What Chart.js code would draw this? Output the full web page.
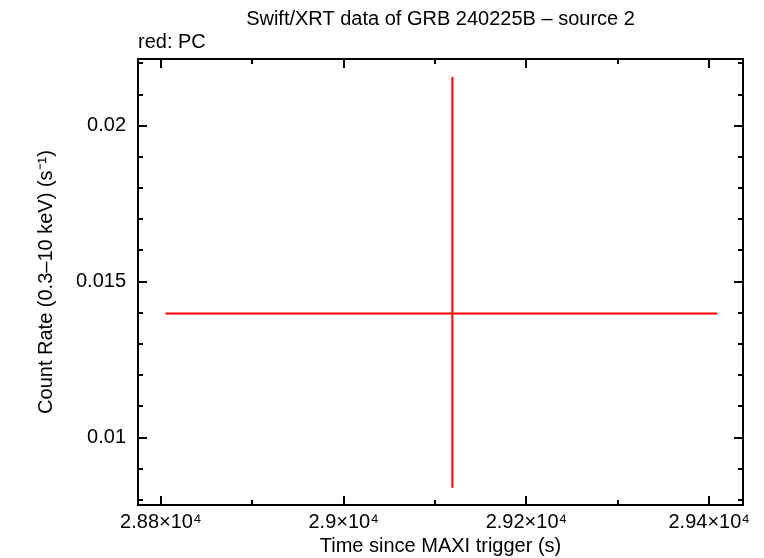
<!DOCTYPE html>
<html>
<head>
<meta charset="utf-8">
<script src="https://cdn.jsdelivr.net/npm/chart.js@4"></script>
<style>
  html, body { margin: 0; padding: 0; background: #fff; }
  #wrap { width: 764px; height: 558px; }
</style>
</head>
<body>
<div id="wrap"><canvas id="lc_chart" width="764" height="558"></canvas></div>
<script>
var lc_chart = document.getElementById('lc_chart');

// PC data point (time, rate) with errors
const pc_time = [29119];
const pc_time_lo = [28805];
const pc_time_hi = [29409];
const pc_rate = [0.01398];
const pc_rate_lo = [0.00839];
const pc_rate_hi = [0.02156];

// axes
const x_range = [28775, 29437];
const y_range = [0.00784, 0.02214];
const x_ticks = [28800, 28900, 29000, 29100, 29200, 29300, 29400];
const x_labels = [28800, 29000, 29200, 29400];
const y_ticks = [0.008, 0.009, 0.010, 0.011, 0.012, 0.013, 0.014, 0.015, 0.016, 0.017, 0.018, 0.019, 0.020, 0.021, 0.022];
const y_labels = [0.01, 0.015, 0.02];

const FONT = 'Liberation Sans, Arial, Helvetica, sans-serif';

function sciLabel(v) {
  var m = +(v / 1e4).toFixed(3);
  return m + '\u00d710\u2074';
}
function isIn(list, v) {
  return list.some(function (t) { return Math.abs(t - v) < 1e-9 * Math.max(1, Math.abs(t)); });
}

// error bars as two short lines each
var datasets = [];
pc_time.forEach(function (t, i) {
  datasets.push({
    data: [{ x: pc_time_lo[i], y: pc_rate[i] }, { x: pc_time_hi[i], y: pc_rate[i] }],
    showLine: true, borderColor: '#ff0000', borderWidth: 2, pointRadius: 0
  });
  datasets.push({
    data: [{ x: t, y: pc_rate_lo[i] }, { x: t, y: pc_rate_hi[i] }],
    showLine: true, borderColor: '#ff0000', borderWidth: 2, pointRadius: 0
  });
});

// frame, inward ticks, texts
const framePlugin = {
  id: 'frame',
  afterDraw: function (chart) {
    var ctx = chart.ctx, a = chart.chartArea;
    var xs = chart.scales.x, ys = chart.scales.y;
    ctx.save();
    ctx.strokeStyle = '#000';
    ctx.lineWidth = 2;
    ctx.strokeRect(a.left, a.top, a.right - a.left, a.bottom - a.top);
    ctx.beginPath();
    x_ticks.forEach(function (v) {
      var px = Math.round(xs.getPixelForValue(v));
      var len = isIn(x_labels, v) ? 9 : 5;
      ctx.moveTo(px, a.bottom); ctx.lineTo(px, a.bottom - len);
      ctx.moveTo(px, a.top); ctx.lineTo(px, a.top + len);
    });
    y_ticks.forEach(function (v) {
      var py = Math.round(ys.getPixelForValue(v));
      var len = isIn(y_labels, v) ? 9 : 5;
      ctx.moveTo(a.left, py); ctx.lineTo(a.left + len, py);
      ctx.moveTo(a.right, py); ctx.lineTo(a.right - len, py);
    });
    ctx.stroke();

    ctx.fillStyle = '#000';
    ctx.font = '20px ' + FONT;
    ctx.textBaseline = 'middle';
    ctx.textAlign = 'right';
    y_labels.forEach(function (v) {
      ctx.fillText(String(v), a.left - 12, ys.getPixelForValue(v));
    });
    ctx.textAlign = 'center';
    x_labels.forEach(function (v) {
      ctx.fillText(sciLabel(v), xs.getPixelForValue(v), a.bottom + 17);
    });
    ctx.fillText('Time since MAXI trigger (s)', (a.left + a.right) / 2, 546);
    ctx.fillText('Swift/XRT data of GRB 240225B \u2013 source 2', (a.left + a.right) / 2, 19);
    ctx.textAlign = 'left';
    ctx.fillText('red: PC', a.left, 42);
    ctx.translate(46, (a.top + a.bottom) / 2);
    ctx.rotate(-Math.PI / 2);
    ctx.textAlign = 'center';
    ctx.fillText('Count Rate (0.3\u201310 keV) (s\u207b\u00b9)', 0, 0);
    ctx.restore();
  }
};

var lcChart = new Chart(lc_chart, {
  type: 'scatter',
  data: { datasets: datasets },
  options: {
    responsive: false,
    animation: false,
    devicePixelRatio: 1,
    layout: { padding: { left: 138, right: 21, top: 59, bottom: 53 } },
    plugins: { legend: { display: false }, tooltip: { enabled: false }, title: { display: false } },
    scales: {
      x: {
        type: 'linear', min: x_range[0], max: x_range[1],
        display: false
      },
      y: {
        type: 'linear', min: y_range[0], max: y_range[1],
        display: false
      }
    }
  },
  plugins: [framePlugin]
});
</script>
</body>
</html>
